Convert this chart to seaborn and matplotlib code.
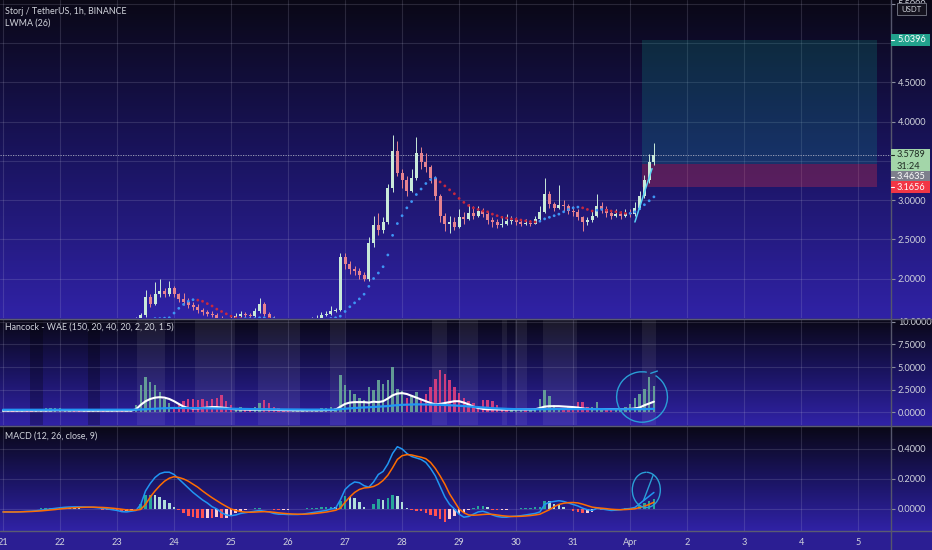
import numpy as np
import pandas as pd
import matplotlib
matplotlib.use("Agg")
import matplotlib.pyplot as plt
import matplotlib.transforms as mtransforms
from matplotlib import font_manager
from matplotlib.colors import LinearSegmentedColormap
from matplotlib.lines import Line2D
from matplotlib.patches import Rectangle, Arc
import seaborn as sns

# 2-hour bars from 21 Mar 00:00 to 1 Apr 10:00 (one row of 12 per day)
close = [1.44, 1.45, 1.43, 1.44, 1.46, 1.45, 1.44, 1.43, 1.45, 1.46, 1.44, 1.45,
         1.46, 1.45, 1.47, 1.46, 1.45, 1.44, 1.46, 1.47, 1.46, 1.45, 1.44, 1.45,
         1.44, 1.43, 1.45, 1.46, 1.49, 1.53, 1.76, 1.68, 1.80, 1.84, 1.80, 1.88,
         1.80, 1.74, 1.70, 1.66, 1.64, 1.60, 1.57, 1.55, 1.54, 1.50, 1.48, 1.47,
         1.48, 1.52, 1.55, 1.54, 1.52, 1.58, 1.68, 1.55, 1.50, 1.48, 1.47, 1.46,
         1.45, 1.46, 1.47, 1.46, 1.48, 1.49, 1.50, 1.54, 1.55, 1.59, 1.60, 2.28,
         2.18, 2.12, 2.10, 2.05, 2.00, 2.45, 2.68, 2.62, 2.72, 3.15, 3.62, 3.35,
         3.25, 3.12, 3.28, 3.60, 3.48, 3.42, 3.28, 3.05, 2.80, 2.70, 2.72, 2.66,
         2.78, 2.76, 2.84, 2.80, 2.86, 2.82, 2.74, 2.72, 2.68, 2.70, 2.73, 2.74,
         2.72, 2.70, 2.71, 2.70, 2.76, 2.85, 3.08, 2.95, 2.90, 2.94, 2.92, 2.86,
         2.85, 2.78, 2.72, 2.74, 2.80, 2.93, 2.88, 2.84, 2.80, 2.82, 2.80, 2.83,
         2.82, 2.90, 3.05, 3.25, 3.48, 3.5789]
high = [1.46, 1.47, 1.46, 1.46, 1.48, 1.47, 1.46, 1.46, 1.47, 1.48, 1.47, 1.47,
        1.48, 1.47, 1.49, 1.48, 1.47, 1.46, 1.48, 1.49, 1.48, 1.47, 1.46, 1.47,
        1.46, 1.46, 1.47, 1.48, 1.51, 1.56, 1.86, 1.80, 1.95, 2.00, 1.88, 1.97,
        1.90, 1.82, 1.82, 1.75, 1.70, 1.67, 1.63, 1.60, 1.58, 1.56, 1.52, 1.50,
        1.53, 1.56, 1.58, 1.57, 1.56, 1.62, 1.75, 1.70, 1.57, 1.52, 1.50, 1.48,
        1.47, 1.48, 1.49, 1.49, 1.50, 1.51, 1.53, 1.57, 1.58, 1.65, 1.63, 2.33,
        2.33, 2.22, 2.16, 2.14, 2.08, 2.53, 2.80, 2.83, 2.78, 3.20, 3.83, 3.75,
        3.40, 3.30, 3.40, 3.80, 3.68, 3.60, 3.45, 3.30, 3.08, 2.84, 2.80, 2.78,
        2.88, 2.85, 2.95, 2.92, 2.92, 2.90, 2.86, 2.78, 2.76, 2.80, 2.82, 2.80,
        2.78, 2.76, 2.76, 2.75, 2.80, 2.92, 3.28, 3.12, 2.98, 3.19, 3.00, 2.95,
        2.92, 2.88, 2.80, 2.79, 2.86, 3.08, 2.98, 2.92, 2.86, 2.88, 2.86, 2.88,
        2.88, 2.97, 3.12, 3.32, 3.58, 3.73]
low = [1.42, 1.43, 1.41, 1.42, 1.43, 1.43, 1.42, 1.41, 1.42, 1.44, 1.42, 1.43,
       1.44, 1.43, 1.44, 1.44, 1.43, 1.42, 1.43, 1.45, 1.44, 1.43, 1.42, 1.43,
       1.42, 1.41, 1.42, 1.44, 1.45, 1.49, 1.51, 1.64, 1.66, 1.76, 1.76, 1.78,
       1.76, 1.70, 1.66, 1.62, 1.60, 1.56, 1.54, 1.52, 1.51, 1.48, 1.46, 1.45,
       1.45, 1.47, 1.51, 1.51, 1.50, 1.51, 1.56, 1.52, 1.48, 1.46, 1.45, 1.44,
       1.43, 1.44, 1.45, 1.44, 1.45, 1.47, 1.48, 1.49, 1.52, 1.54, 1.57, 1.58,
       2.12, 2.06, 2.05, 2.00, 1.97, 1.97, 2.40, 2.56, 2.58, 2.70, 3.10, 3.30,
       3.15, 3.05, 3.10, 3.25, 3.40, 3.36, 3.22, 3.00, 2.72, 2.60, 2.58, 2.62,
       2.64, 2.70, 2.74, 2.76, 2.78, 2.78, 2.70, 2.66, 2.64, 2.65, 2.68, 2.70,
       2.68, 2.67, 2.68, 2.67, 2.69, 2.74, 2.84, 2.90, 2.86, 2.88, 2.86, 2.82,
       2.80, 2.74, 2.60, 2.68, 2.72, 2.78, 2.84, 2.79, 2.76, 2.78, 2.76, 2.78,
       2.79, 2.80, 2.88, 3.02, 3.22, 3.45]
lwma = [1.45, 1.45, 1.45, 1.45, 1.45, 1.45, 1.45, 1.44, 1.44, 1.45, 1.45, 1.45,
        1.45, 1.45, 1.45, 1.46, 1.46, 1.45, 1.45, 1.46, 1.46, 1.46, 1.45, 1.45,
        1.45, 1.45, 1.44, 1.44, 1.45, 1.46, 1.47, 1.48, 1.49, 1.49, 1.495, 1.50,
        1.56, 1.62, 1.67, 1.71, 1.73, 1.725, 1.71, 1.68, 1.65, 1.61, 1.58, 1.55,
        1.52, 1.50, 1.49, 1.49, 1.49, 1.49, 1.50, 1.50, 1.49, 1.49, 1.48, 1.47,
        1.47, 1.46, 1.46, 1.46, 1.46, 1.46, 1.47, 1.47, 1.48, 1.49, 1.50, 1.52,
        1.58, 1.64, 1.69, 1.74, 1.80, 1.90, 2.00, 2.07, 2.15, 2.30, 2.55, 2.70,
        2.80, 2.90, 2.98, 3.07, 3.14, 3.21, 3.26, 3.28, 3.23, 3.18, 3.13, 3.08,
        3.02, 2.97, 2.93, 2.90, 2.88, 2.86, 2.85, 2.82, 2.80, 2.78, 2.77, 2.76,
        2.755, 2.745, 2.735, 2.725, 2.72, 2.73, 2.76, 2.78, 2.80, 2.82, 2.85, 2.88,
        2.90, 2.91, 2.90, 2.88, 2.86, 2.87, 2.88, 2.87, 2.86, 2.85, 2.84, 2.83,
        2.83, 2.85, 2.89, 2.94, 2.99, 3.04]

# WAE: positive = trend up column, negative = trend down column
wae_trend = [0.2, 0.15, -0.2, 0.2, 0.3, -0.2, -0.2, 0.15, 0.3, 0.4, 0.5, 0.45,
             0.5, 0.3, 0.2, -0.2, -0.15, 0.2, 0.25, 0.3, 0.3, -0.2, 0.25, 0.3,
             0.2, -0.2, 0.2, 0.3, 0.8, 3.0, 3.9, 3.3, 3.0, 2.2, 1.5, 1.0,
             -0.5, -0.8, -1.2, -1.5, -1.4, -1.3, -1.5, -1.2, -1.4, -1.6, -1.9, -1.2,
             -0.8, 0.5, 0.6, -0.4, -0.5, 0.6, 1.0, -1.3, -1.0, -0.6, -0.4, -0.3,
             -0.2, 0.2, 0.3, 0.2, 0.3, 0.2, 0.3, 0.4, 0.5, 0.6, 0.5, 4.1,
             3.0, 2.4, 2.0, 1.6, 1.3, 2.8, 2.4, 3.6, 3.1, 3.6, 5.0, 2.6,
             2.3, -1.6, 1.8, 2.2, -1.4, -2.0, -2.8, -3.7, -4.7, -4.2, -3.6, -2.8,
             -2.1, -1.6, -1.2, -1.0, -0.6, -1.3, -1.3, -1.2, -0.8, -0.4, -0.3, 0.2,
             0.3, 0.2, -0.2, 0.2, 0.5, 1.5, 2.4, 1.8, 0.8, 0.5, -0.4, -0.6,
             -0.5, -1.1, -1.1, -0.6, 0.6, 1.1, 0.5, -0.3, -0.3, 0.2, 0.3, 0.6,
             0.9, 1.6, 2.0, 2.6, 3.9, 2.9]
wae_explosion = [0.15, 0.15, 0.14, 0.14, 0.15, 0.16, 0.16, 0.15, 0.15, 0.16, 0.18, 0.2,
                 0.2, 0.19, 0.18, 0.17, 0.16, 0.16, 0.15, 0.15, 0.16, 0.16, 0.15, 0.15,
                 0.15, 0.15, 0.15, 0.16, 0.3, 0.8, 1.2, 1.45, 1.6, 1.65, 1.6, 1.45,
                 1.2, 0.9, 0.6, 0.45, 0.4, 0.4, 0.45, 0.5, 0.55, 0.55, 0.5, 0.45,
                 0.35, 0.3, 0.28, 0.26, 0.25, 0.25, 0.26, 0.28, 0.27, 0.25, 0.22, 0.2,
                 0.2, 0.19, 0.18, 0.18, 0.18, 0.18, 0.19, 0.2, 0.21, 0.22, 0.25, 0.6,
                 0.9, 1.05, 1.1, 1.1, 1.1, 1.05, 1.15, 1.1, 1.2, 1.5, 1.85, 2.05,
                 2.1, 2.0, 1.8, 1.6, 1.4, 1.2, 1.0, 0.85, 0.9, 1.0, 1.1, 1.2,
                 1.2, 1.05, 0.85, 0.6, 0.45, 0.35, 0.3, 0.3, 0.28, 0.27, 0.27, 0.27,
                 0.27, 0.27, 0.27, 0.28, 0.3, 0.45, 0.6, 0.65, 0.65, 0.65, 0.62, 0.6,
                 0.55, 0.5, 0.4, 0.35, 0.33, 0.33, 0.33, 0.32, 0.32, 0.32, 0.32, 0.33,
                 0.35, 0.4, 0.5, 0.75, 0.95, 1.15]
wae_deadzone = [0.25, 0.25, 0.25, 0.25, 0.25, 0.25, 0.25, 0.25, 0.26, 0.26, 0.26, 0.26,
                0.26, 0.26, 0.26, 0.26, 0.25, 0.25, 0.25, 0.25, 0.25, 0.25, 0.25, 0.25,
                0.25, 0.25, 0.25, 0.25, 0.26, 0.28, 0.31, 0.34, 0.37, 0.4, 0.42, 0.44,
                0.45, 0.45, 0.45, 0.45, 0.44, 0.43, 0.42, 0.41, 0.4, 0.39, 0.38, 0.37,
                0.36, 0.35, 0.34, 0.33, 0.33, 0.32, 0.32, 0.31, 0.31, 0.3, 0.3, 0.29,
                0.29, 0.28, 0.28, 0.27, 0.27, 0.27, 0.26, 0.26, 0.26, 0.26, 0.27, 0.32,
                0.37, 0.41, 0.45, 0.48, 0.5, 0.53, 0.56, 0.59, 0.62, 0.66, 0.72, 0.76,
                0.8, 0.82, 0.84, 0.85, 0.85, 0.84, 0.83, 0.82, 0.8, 0.78, 0.76, 0.73,
                0.7, 0.66, 0.62, 0.58, 0.54, 0.5, 0.46, 0.43, 0.4, 0.37, 0.35, 0.33,
                0.32, 0.31, 0.3, 0.3, 0.3, 0.31, 0.32, 0.33, 0.33, 0.33, 0.33, 0.33,
                0.33, 0.33, 0.32, 0.32, 0.32, 0.32, 0.32, 0.31, 0.31, 0.31, 0.3, 0.3,
                0.3, 0.3, 0.31, 0.32, 0.34, 0.36]
# shaded background columns of the WAE pane, in bar units
wae_light_bands = [(28.2, 34.1), (40.4, 48.8), (53.7, 62.5), (68.8, 72.0), (90.3, 93.5),
                   (96.2, 100.0), (105.0, 106.0), (107.8, 110.3), (113.7, 120.8), (134.5, 137.4)]
wae_dark_bands = [(5.7, 8.4), (17.9, 20.4)]

macd_line = [-0.02, -0.02, -0.021, -0.02, -0.018, -0.016, -0.015, -0.012, -0.008, -0.004, 0.0, 0.004,
             0.008, 0.011, 0.013, 0.014, 0.014, 0.013, 0.012, 0.011, 0.008, 0.004, 0.0, -0.005,
             -0.01, -0.018, -0.02, -0.015, -0.01, 0.03, 0.12, 0.17, 0.21, 0.235, 0.245, 0.245,
             0.23, 0.2, 0.17, 0.14, 0.11, 0.085, 0.06, 0.04, 0.015, 0.0, -0.025, -0.04,
             -0.045, -0.04, -0.03, -0.025, -0.02, -0.015, -0.01, -0.015, -0.02, -0.03, -0.035, -0.035,
             -0.037, -0.037, -0.037, -0.035, -0.03, -0.025, -0.02, -0.015, -0.01, 0.0, 0.005, 0.06,
             0.13, 0.16, 0.18, 0.175, 0.155, 0.145, 0.18, 0.23, 0.25, 0.3, 0.37, 0.415,
             0.4, 0.37, 0.35, 0.34, 0.33, 0.31, 0.27, 0.22, 0.15, 0.08, 0.03, 0.0,
             -0.035, -0.055, -0.05, -0.035, -0.02, -0.015, -0.025, -0.04, -0.05, -0.055, -0.055, -0.05,
             -0.048, -0.045, -0.04, -0.035, -0.03, -0.02, 0.03, 0.045, 0.05, 0.055, 0.05, 0.04,
             0.03, 0.02, 0.005, -0.005, -0.01, 0.005, 0.0, -0.005, -0.01, -0.008, -0.005, 0.0,
             0.003, 0.01, 0.035, 0.06, 0.085, 0.11]
macd_signal = [-0.02, -0.02, -0.02, -0.02, -0.019, -0.018, -0.017, -0.015, -0.013, -0.01, -0.007, -0.004,
               0.0, 0.003, 0.006, 0.008, 0.01, 0.011, 0.012, 0.012, 0.011, 0.01, 0.008, 0.005,
               0.002, -0.002, -0.006, -0.008, -0.008, -0.003, 0.03, 0.08, 0.12, 0.155, 0.185, 0.205,
               0.215, 0.21, 0.2, 0.185, 0.165, 0.145, 0.12, 0.097, 0.075, 0.055, 0.035, 0.017,
               0.0, -0.01, -0.017, -0.021, -0.022, -0.021, -0.019, -0.018, -0.019, -0.022, -0.026, -0.029,
               -0.032, -0.034, -0.035, -0.035, -0.034, -0.032, -0.029, -0.025, -0.021, -0.015, -0.009, 0.005,
               0.045, 0.08, 0.11, 0.13, 0.14, 0.143, 0.15, 0.165, 0.19, 0.225, 0.275, 0.33,
               0.355, 0.362, 0.36, 0.352, 0.345, 0.335, 0.31, 0.27, 0.22, 0.165, 0.1, 0.05,
               0.0, -0.025, -0.04, -0.042, -0.04, -0.037, -0.035, -0.036, -0.04, -0.045, -0.048, -0.05,
               -0.05, -0.049, -0.047, -0.044, -0.04, -0.035, -0.02, -0.005, 0.015, 0.03, 0.038, 0.042,
               0.043, 0.04, 0.032, 0.022, 0.012, 0.008, 0.005, 0.002, -0.002, -0.004, -0.005, -0.004,
               -0.002, 0.001, 0.01, 0.018, 0.03, 0.045]

day_labels = ['21', '22', '23', '24', '25', '26', '27', '28', '29', '30', '31',
              'Apr', '2', '3', '4', '5']
bars_per_day = 12

# long position tool
target_price = 5.0396
entry_price = 3.4635
stop_price = 3.1656
last_price = 3.5789
countdown = '31:24'
position_span = (134.5, 184.0)
# hand drawn marks
trend_stroke = ([133.0, 136.6], [2.72, 3.40])
wae_circle = (134.5, 1.67, 10.7, 5.6)
macd_circle = (135.4, 0.127, 5.9, 0.235)

sns.set_theme(style="dark")
installed = {f.name for f in font_manager.fontManager.ttflist}
axis_font = 'Liberation Sans Narrow' if 'Liberation Sans Narrow' in installed else 'Lato'
plt.rcParams['font.family'] = [axis_font, 'DejaVu Sans']

W, H = 932, 550
PLOT_RIGHT = 891
TEXT = '#d1d4dc'

df = pd.DataFrame({'close': close, 'high': high, 'low': low, 'lwma': lwma,
                   'trend': wae_trend, 'explosion': wae_explosion, 'deadzone': wae_deadzone,
                   'macd': macd_line, 'signal': macd_signal})
df['idx'] = np.arange(len(df))
df['open'] = df['close'].shift(1).fillna(df['close'].iloc[0])
df['up'] = df['close'] >= df['open']
df['lwma_dir'] = np.where(df['lwma'].diff().fillna(0) >= 0, 'up', 'down')
df['hist'] = df['macd'] - df['signal']
hd = df['hist'].diff().fillna(0)
df['hist_color'] = np.select([(df['hist'] >= 0) & (hd >= 0), df['hist'] >= 0, hd < 0],
                             ['#26a69a', '#b2dfdb', '#ff5252'], '#ffcdd2')


def px_rect(top, bottom, left=0, right=PLOT_RIGHT):
    return [left / W, 1 - bottom / H, (right - left) / W, (bottom - top) / H]


fig = plt.figure(figsize=(W / 100, H / 100), dpi=100)
fig.patch.set_facecolor('#2b1e93')

# pane backgrounds: dark at the top fading to indigo
cmap = LinearSegmentedColormap.from_list('tv', ['#0a0816', '#1a1460', '#3022a6'])
grad = np.linspace(0, 1, 256).reshape(-1, 1)
panes = [(0, 318), (319, 425), (426, 531)]
for top, bottom in panes:
    bg = fig.add_axes(px_rect(top, bottom, 0, W), zorder=0)
    bg.imshow(grad, aspect='auto', cmap=cmap, extent=[0, 1, 0, 1], origin='upper')
    bg.set_axis_off()

xlim = (-0.63, 186.9)
day_pos = [bars_per_day * k for k in range(len(day_labels))]


def style_axes(ax, yticks, ylabels, ylim, show_x=False):
    ax.set_facecolor('none')
    ax.set_xlim(*xlim)
    ax.set_ylim(*ylim)
    ax.set_xticks(day_pos)
    ax.set_yticks(yticks)
    ax.set_yticklabels(ylabels)
    ax.yaxis.tick_right()
    ax.grid(True, color='#c8c8e0', alpha=0.16, lw=0.8)
    ax.set_axisbelow(True)
    for s in ax.spines.values():
        s.set_visible(False)
    ax.tick_params(axis='y', length=3, width=0.8, color='#8a8ea0', labelsize=6.6,
                   labelcolor=TEXT, pad=2, direction='out')
    if show_x:
        ax.set_xticklabels(day_labels)
        ax.tick_params(axis='x', length=0, pad=5, labelsize=6.6, labelcolor=TEXT)
    else:
        ax.tick_params(axis='x', length=0, labelbottom=False)
    ax.set_xlabel('')
    ax.set_ylabel('')


# ---- price pane ----
ax = fig.add_axes(px_rect(0, 318), zorder=2)
price_ticks = [2.0, 2.5, 3.0, 3.5, 4.0, 4.5, 5.0, 5.5]
price_labels = ['%.4f' % v if v not in (3.5, 5.0) else '' for v in price_ticks]
style_axes(ax, price_ticks, price_labels, (1.497, 5.548))

ax.add_patch(Rectangle((position_span[0], entry_price), position_span[1] - position_span[0],
                       target_price - entry_price, fc='#0e9c8c', alpha=0.22, lw=0, zorder=1))
ax.add_patch(Rectangle((position_span[0], stop_price), position_span[1] - position_span[0],
                       entry_price - stop_price, fc='#f23645', alpha=0.28, lw=0, zorder=1))

up_col, dn_col = '#c9ead9', '#e6838f'
cols = np.where(df['up'], up_col, dn_col)
ax.vlines(df['idx'], df['low'], df['high'], colors=cols, lw=0.7, zorder=3)
body_lo = np.minimum(df['open'], df['close'])
body_h = np.maximum(np.abs(df['close'] - df['open']), 0.012)
ax.bar(df['idx'], body_h, bottom=body_lo, width=0.62, color=cols, lw=0, zorder=3)

sns.scatterplot(data=df, x='idx', y='lwma', hue='lwma_dir',
                palette={'up': '#3e95f5', 'down': '#c8283e'}, s=4, linewidth=0,
                legend=False, ax=ax, zorder=4)
ax.axhline(last_price, color='#a9adc0', lw=0.6, ls=(0, (1.5, 1.5)), zorder=2)
ax.plot(trend_stroke[0], trend_stroke[1], color='#5ad2f4', lw=1.1, zorder=5)
ax.set_xlabel('')
ax.set_ylabel('')

# ---- WAE pane ----
ax2 = fig.add_axes(px_rect(319, 425), zorder=2)
style_axes(ax2, [0, 2.5, 5, 7.5, 10], ['0.0000', '2.5000', '5.0000', '7.5000', '10.0000'],
           (-1.44, 10.33))
for a, b in wae_light_bands:
    ax2.axvspan(a, b, color='white', alpha=0.07, lw=0, zorder=0)
for a, b in wae_dark_bands:
    ax2.axvspan(a, b, color='black', alpha=0.25, lw=0, zorder=0)
wae_cols = np.where(df['trend'] >= 0, '#6aa99a', '#e0407e')
ax2.bar(df['idx'], df['trend'].abs(), width=0.5, color=wae_cols, lw=0, alpha=0.9, zorder=2)
sns.lineplot(data=df, x='idx', y='explosion', color='white', lw=1.5, ax=ax2, zorder=3)
sns.lineplot(data=df, x='idx', y='deadzone', color='#2196f3', lw=1.6, ax=ax2, zorder=4)
cx, cy, cw, ch = wae_circle
ax2.add_patch(Arc((cx, cy), cw, ch, theta1=70, theta2=400, color='#2a9fd6', lw=1.0, zorder=6))
ax2.plot([cx + cw / 2 * np.cos(np.radians(70)), cx + cw / 2 * np.cos(np.radians(70)) + 1.4],
         [cy + ch / 2 * np.sin(np.radians(70)), cy + ch / 2 * np.sin(np.radians(70)) + 0.25],
         color='#2a9fd6', lw=1.0, zorder=6)
ax2.set_xlabel('')
ax2.set_ylabel('')

# ---- MACD pane ----
ax3 = fig.add_axes(px_rect(426, 531), zorder=2)
style_axes(ax3, [0, 0.2, 0.4], ['0.0000', '0.2000', '0.4000'], (-0.147, 0.553), show_x=True)
ax3.bar(df['idx'], df['hist'], width=0.55, color=df['hist_color'], lw=0, zorder=2)
sns.lineplot(data=df, x='idx', y='macd', color='#2196f3', lw=1.1, ax=ax3, zorder=3)
sns.lineplot(data=df, x='idx', y='signal', color='#ff6d00', lw=1.1, ax=ax3, zorder=3)
cx, cy, cw, ch = macd_circle
ax3.add_patch(Arc((cx, cy), cw, ch, theta1=60, theta2=400, color='#2a9fd6', lw=1.0, zorder=6))
ax3.plot([cx + cw / 2 * np.cos(np.radians(60)), cx - cw * 0.1],
         [cy + ch / 2 * np.sin(np.radians(60)), cy - ch * 0.3],
         color='#2a9fd6', lw=1.0, zorder=6)
ax3.set_xlabel('')
ax3.set_ylabel('')

# ---- frame lines ----
for y in (318.5, 425.5, 531):
    fig.add_artist(Line2D([0, 1], [1 - y / H] * 2, color='#5b5c72', lw=1.0, zorder=8))
fig.add_artist(Line2D([PLOT_RIGHT / W] * 2, [0, 1], color='#55566c', lw=1.0, zorder=8))

# ---- price scale labels ----
ident = mtransforms.IdentityTransform()


def price_label(price, lines, fc, tc, dy=0, h=12):
    yc = ax.transData.transform((0, price))[1] + dy
    box_h = h * len(lines)
    top = yc + h / 2
    fig.add_artist(Rectangle((PLOT_RIGHT, top - box_h), 39, box_h, transform=ident,
                             fc=fc, ec='none', zorder=10))
    fig.add_artist(Line2D([PLOT_RIGHT, PLOT_RIGHT + 3], [yc, yc], transform=ident,
                          color=tc, lw=0.8, zorder=11))
    for k, s in enumerate(lines):
        fig.text(PLOT_RIGHT + 6, yc - k * h, s, transform=ident, color=tc, fontsize=6.6,
                 va='center', ha='left', zorder=12)


price_label(target_price, ['%.4f' % target_price], '#22a18c', 'white')
price_label(last_price, ['%.4f' % last_price, countdown], '#a3d6a9', '#1e2a22')
price_label(entry_price, ['%.4f' % entry_price], '#7d7f8c', 'white', dy=-13)
price_label(stop_price, ['%.4f' % stop_price], '#f23645', 'white')

fig.add_artist(Rectangle((897, 535), 29, 12, transform=ident, fc='#14121e', ec='#6a6c7a',
                         lw=0.7, zorder=10))
fig.text(911.5, 541, 'USDT', transform=ident, color=TEXT, fontsize=5.6, ha='center',
         va='center', zorder=12)

# ---- pane titles ----
title_font = ['Lato', 'DejaVu Sans']
fig.text(5 / W, 1 - 11 / H, 'Storj / TetherUS, 1h, BINANCE', color=TEXT, fontsize=6.4,
         va='center', family=title_font, zorder=12)
fig.text(5 / W, 1 - 23 / H, 'LWMA (26)', color=TEXT, fontsize=6.4, va='center',
         family=title_font, zorder=12)
fig.text(5 / W, 1 - 327 / H, 'Hancock - WAE (150, 20, 40, 20, 2, 20, 1.5)', color=TEXT,
         fontsize=6.4, va='center', family=title_font, zorder=12)
fig.text(5 / W, 1 - 436 / H, 'MACD (12, 26, close, 9)', color=TEXT, fontsize=6.4,
         va='center', family=title_font, zorder=12)

fig.savefig('out.png', dpi=100, facecolor=fig.get_facecolor())
